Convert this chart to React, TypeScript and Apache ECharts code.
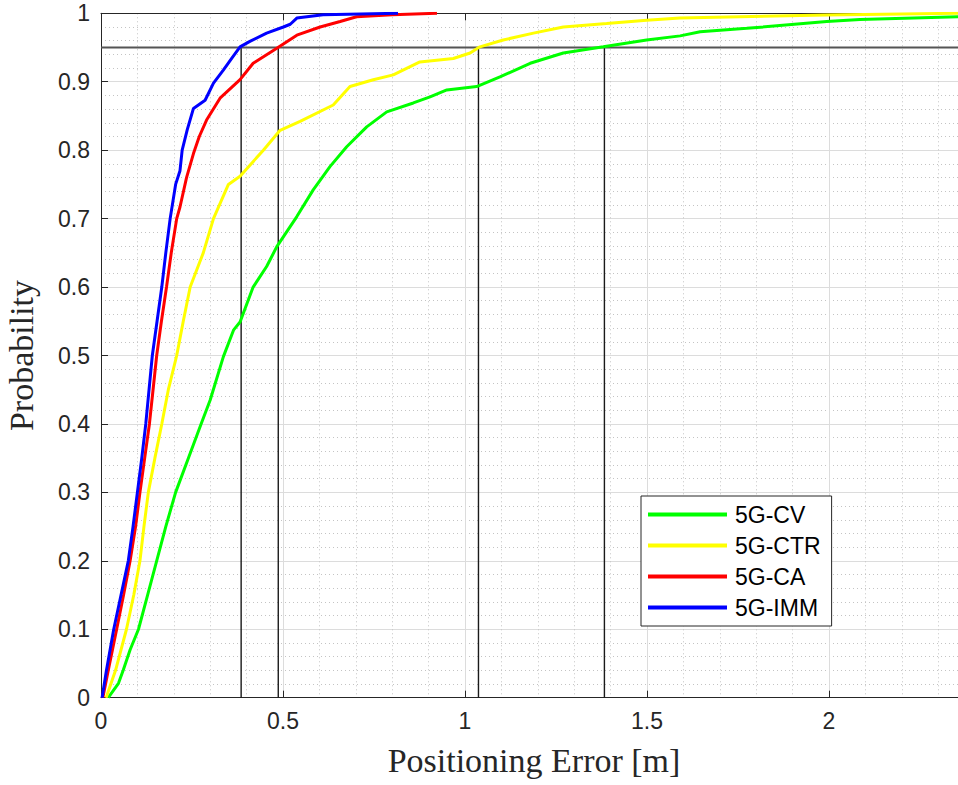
import { useEffect, useRef } from "react";
import * as echarts from "echarts";

// ---- Data ----
const seriesNames = ["5G-CV", "5G-CTR", "5G-CA", "5G-IMM"];
const seriesColors = ["#00ff00", "#ffff00", "#ff0000", "#0000ff"];

const cvErr = [0.02, 0.048, 0.061, 0.08, 0.103, 0.128, 0.153, 0.178, 0.205, 0.24, 0.275, 0.3, 0.336, 0.364, 0.382, 0.418, 0.455, 0.483, 0.538, 0.583, 0.629, 0.675, 0.73, 0.785, 0.858, 0.904, 0.95, 1.032, 1.096, 1.179, 1.27, 1.38, 1.499, 1.591, 1.646, 1.774, 1.994, 2.085, 2.36];
const cvProb = [0, 0.021, 0.04, 0.07, 0.1, 0.15, 0.2, 0.25, 0.3, 0.35, 0.4, 0.435, 0.498, 0.537, 0.549, 0.6, 0.63, 0.659, 0.703, 0.742, 0.776, 0.805, 0.834, 0.856, 0.869, 0.878, 0.888, 0.893, 0.907, 0.927, 0.942, 0.951, 0.961, 0.967, 0.973, 0.978, 0.988, 0.991, 0.995];

const ctrErr = [0.014, 0.04, 0.07, 0.09, 0.107, 0.118, 0.13, 0.148, 0.167, 0.185, 0.208, 0.226, 0.245, 0.281, 0.309, 0.35, 0.382, 0.446, 0.492, 0.547, 0.638, 0.684, 0.748, 0.803, 0.876, 0.968, 1.014, 1.041, 1.105, 1.188, 1.27, 1.389, 1.499, 1.59, 1.994, 2.2, 2.36];
const ctrProb = [0, 0.04, 0.1, 0.15, 0.2, 0.25, 0.3, 0.35, 0.4, 0.45, 0.5, 0.55, 0.6, 0.65, 0.7, 0.75, 0.762, 0.8, 0.829, 0.842, 0.866, 0.893, 0.903, 0.91, 0.929, 0.934, 0.942, 0.951, 0.961, 0.971, 0.98, 0.985, 0.99, 0.993, 0.9976, 0.999, 1.0];

const caErr = [0.005, 0.02, 0.043, 0.062, 0.08, 0.095, 0.107, 0.12, 0.133, 0.143, 0.153, 0.166, 0.18, 0.193, 0.208, 0.217, 0.235, 0.254, 0.27, 0.29, 0.327, 0.382, 0.418, 0.483, 0.538, 0.602, 0.657, 0.702, 0.8, 0.923];
const caProb = [0, 0.04, 0.1, 0.15, 0.2, 0.25, 0.3, 0.35, 0.4, 0.45, 0.5, 0.55, 0.6, 0.65, 0.7, 0.717, 0.76, 0.795, 0.82, 0.844, 0.876, 0.903, 0.927, 0.949, 0.968, 0.98, 0.988, 0.995, 0.998, 1.0];

const immErr = [0.003, 0.015, 0.035, 0.055, 0.075, 0.088, 0.1, 0.112, 0.123, 0.132, 0.141, 0.154, 0.167, 0.178, 0.19, 0.205, 0.217, 0.223, 0.237, 0.254, 0.286, 0.309, 0.336, 0.36, 0.382, 0.409, 0.455, 0.501, 0.52, 0.538, 0.61, 0.816];
const immProb = [0, 0.04, 0.1, 0.15, 0.2, 0.25, 0.3, 0.35, 0.4, 0.45, 0.5, 0.55, 0.6, 0.65, 0.7, 0.75, 0.77, 0.8, 0.83, 0.861, 0.873, 0.898, 0.917, 0.935, 0.951, 0.959, 0.971, 0.98, 0.984, 0.993, 0.998, 1.0];

// error at which each curve reaches the 95% level
const refErr = [0.385, 0.487, 1.037, 1.383];
const refProb = 0.95;

const xLabelValues = [0, 0.5, 1, 1.5, 2];

const zip = (xs: number[], ys: number[]) => xs.map((x, i) => [x, ys[i]]);

export default function App() {
  const ref = useRef<HTMLDivElement>(null);

  useEffect(() => {
    document.body.style.margin = "0";
    document.body.style.overflow = "hidden";
    const chart = echarts.init(ref.current!, undefined, { renderer: "svg" });

    const axisColor = "#262626";
    const tickFont = { fontFamily: "Liberation Sans", fontSize: 23, color: axisColor };
    const nameFont = { fontFamily: "Liberation Serif", fontSize: 34, color: axisColor };

    const curves = [
      zip(cvErr, cvProb),
      zip(ctrErr, ctrProb),
      zip(caErr, caProb),
      zip(immErr, immProb),
    ];

    const refSeries: any[] = refErr.map((x) => ({
      type: "line",
      data: [[x, 0], [x, refProb]],
      symbol: "none",
      silent: true,
      lineStyle: { color: "#1a1a1a", width: 1.4 },
      z: 1,
    }));
    refSeries.push({
      type: "line",
      data: [[0, refProb], [2.5, refProb]],
      symbol: "none",
      silent: true,
      lineStyle: { color: "#555555", width: 2 },
      z: 1,
    });

    const curveSeries = curves.map((d, i) => ({
      type: "line",
      name: seriesNames[i],
      data: d,
      symbol: "none",
      showSymbol: false,
      color: seriesColors[i],
      lineStyle: { color: seriesColors[i], width: 3 },
      z: 3,
    }));

    chart.setOption({
      animation: false,
      backgroundColor: "#ffffff",
      grid: { left: 101, top: 13.3, right: 0, bottom: 87.3, containLabel: false, outerBoundsMode: "none" },
      legend: {
        data: seriesNames,
        orient: "vertical",
        left: 641,
        top: 496,
        backgroundColor: "#ffffff",
        borderColor: axisColor,
        borderWidth: 1,
        borderRadius: 0,
        padding: [7, 11, 7, 7],
        itemGap: 8,
        itemWidth: 79,
        itemHeight: 4,
        icon: "rect",
        textStyle: { fontFamily: "Liberation Sans", fontSize: 23, color: "#000000", padding: [0, 0, 0, 3] },
      },
      xAxis: [
        {
          type: "value",
          min: 0,
          max: 2.5,
          interval: 0.5,
          position: "bottom",
          name: "Positioning Error [m]",
          nameLocation: "middle",
          nameGap: 46,
          nameTextStyle: { ...nameFont, padding: [0, 44, 0, 0] },
          axisLine: { show: true, onZero: false, lineStyle: { color: axisColor, width: 1 } },
          axisTick: { show: true, inside: true, length: 7, lineStyle: { color: axisColor } },
          axisLabel: {
            ...tickFont,
            margin: 12,
            formatter: (v: number) => (xLabelValues.includes(v) ? String(v) : ""),
          },
          splitLine: { show: true, lineStyle: { color: "#dcdcdc", width: 1 } },
          minorTick: { show: false, splitNumber: 5 },
          minorSplitLine: { show: true, lineStyle: { color: "#c4c4c4", width: 1, type: [1, 3] } },
        },
        {
          type: "value",
          min: 0,
          max: 2.5,
          interval: 0.5,
          position: "top",
          axisLine: { show: true, onZero: false, lineStyle: { color: axisColor, width: 1 } },
          axisTick: { show: true, inside: true, length: 7, lineStyle: { color: axisColor } },
          axisLabel: { show: false },
          splitLine: { show: false },
        },
      ],
      yAxis: {
        type: "value",
        min: 0,
        max: 1,
        interval: 0.1,
        name: "Probability",
        nameLocation: "middle",
        nameGap: 63,
        nameTextStyle: nameFont,
        axisLine: { show: true, onZero: false, lineStyle: { color: axisColor, width: 1 } },
        axisTick: { show: true, inside: true, length: 7, lineStyle: { color: axisColor } },
        axisLabel: { ...tickFont, margin: 11 },
        splitLine: { show: true, lineStyle: { color: "#dcdcdc", width: 1 } },
        minorTick: { show: false, splitNumber: 5 },
        minorSplitLine: { show: true, lineStyle: { color: "#c4c4c4", width: 1, type: [1, 3] } },
      },
      series: [...refSeries, ...curveSeries],
    });

    return () => chart.dispose();
  }, []);

  // The plotting area continues past the right edge of the 958px window (cropped, as in the reference)
  return <div ref={ref} style={{ width: 1011, height: 785 }} />;
}
